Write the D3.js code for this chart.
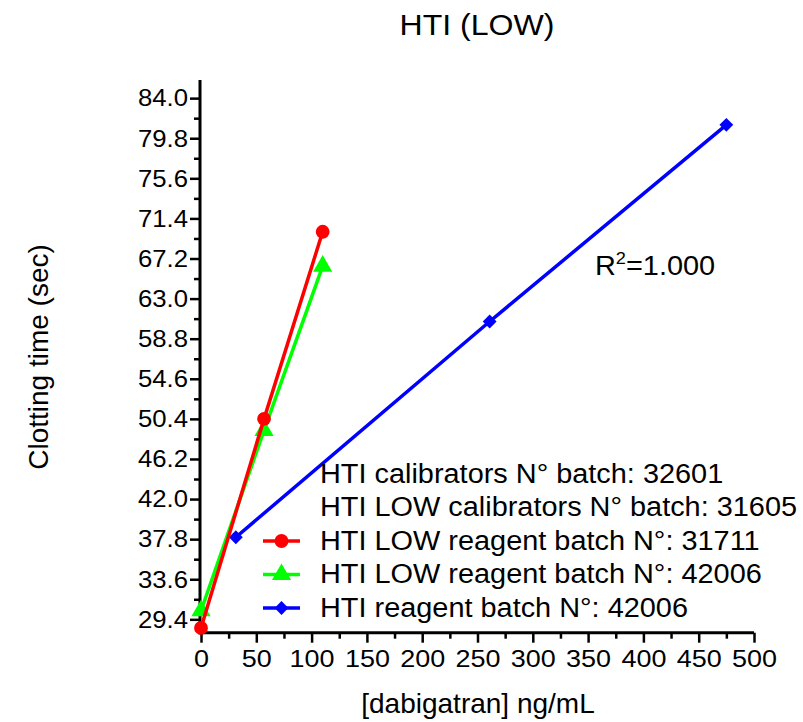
<!DOCTYPE html>
<html>
<head>
<meta charset="utf-8">
<script src="https://cdn.jsdelivr.net/npm/d3@7"></script>
<style>
  body { margin: 0; background: #fff; }
  text { font-family: "Liberation Sans", Arial, sans-serif; fill: #000; }
</style>
</head>
<body>
<div id="chart"></div>
<script>
// data
var redX = [0, 57, 110];
var redY = [28.5, 50.4, 70.0];
var greenX = [0, 57, 110];
var greenY = [30.3, 49.2, 66.4];
var blueX = [31.5, 261, 475];
var blueY = [38.0, 60.6, 81.2];

var seriesNames = [
    "HTI LOW reagent batch N°: 31711",
    "HTI LOW reagent batch N°: 42006",
    "HTI reagent batch N°: 42006"
];
var extraLegend = [
    "HTI calibrators N° batch: 32601",
    "HTI LOW calibrators N° batch: 31605"
];

var yMajor = [29.4, 33.6, 37.8, 42.0, 46.2, 50.4, 54.6, 58.8, 63.0, 67.2, 71.4, 75.6, 79.8, 84.0];
var yMinor = [31.5, 35.7, 39.9, 44.1, 48.3, 52.5, 56.7, 60.9, 65.1, 69.3, 73.5, 77.7, 81.9];
var xMajor = [0, 50, 100, 150, 200, 250, 300, 350, 400, 450, 500];
var xMinor = [25, 75, 125, 175, 225, 275, 325, 375, 425, 475];

var width = 803, height = 722;

var svg = d3.select("#chart")
    .append("svg")
    .attr("width", width)
    .attr("height", height);

// scales
var x = d3.scaleLinear().domain([0, 500]).range([201, 754]);
var y = d3.scaleLinear().domain([28, 85.9]).range([632.7, 80]);

// the original text is a bit wider than Liberation Sans, so stretch it sideways
function wide(sel, cx, cy) {
    sel.attr("transform", "translate(" + cx + "," + cy + ") scale(1.07,1) translate(" + (-cx) + "," + (-cy) + ")");
}

// title
svg.append("text")
    .attr("x", 477)
    .attr("y", 35)
    .attr("text-anchor", "middle")
    .style("font-size", "30px")
    .call(wide, 477, 35)
    .text("HTI (LOW)");

// axis titles
svg.append("text")
    .attr("transform", "translate(48,357) rotate(-90)")
    .attr("text-anchor", "middle")
    .style("font-size", "28px")
    .text("Clotting time (sec)");

svg.append("text")
    .attr("x", 478)
    .attr("y", 713)
    .attr("text-anchor", "middle")
    .style("font-size", "28px")
    .text("[dabigatran] ng/mL");

// y axis
var yAxis = svg.append("g")
    .attr("transform", "translate(200,0)")
    .call(d3.axisLeft(y).tickValues(yMajor).tickSize(10).tickSizeOuter(0)
        .tickPadding(2).tickFormat(d3.format(".1f")));
svg.append("g")
    .attr("transform", "translate(200,0)")
    .call(d3.axisLeft(y).tickValues(yMinor).tickSize(6).tickSizeOuter(0).tickFormat(""))
    .select(".domain").remove();

// x axis
var xAxis = svg.append("g")
    .attr("transform", "translate(0,632.7)")
    .call(d3.axisBottom(x).tickValues(xMajor).tickSize(10).tickSizeOuter(0)
        .tickPadding(7).tickFormat(d3.format("d")));
svg.append("g")
    .attr("transform", "translate(0,632.7)")
    .call(d3.axisBottom(x).tickValues(xMinor).tickSize(6).tickSizeOuter(0).tickFormat(""))
    .select(".domain").remove();

// extend axis lines so they meet at the corner
yAxis.select(".domain").attr("d", "M0," + y.range()[1] + "V" + (y.range()[0] + 1.5));
xAxis.select(".domain").attr("d", "M" + (x.range()[0] - 2.5) + ",0H" + x.range()[1]);

svg.selectAll(".domain").attr("stroke", "#000").attr("stroke-width", 3);
svg.selectAll(".tick line").attr("stroke", "#000").attr("stroke-width", 2.5);
svg.selectAll(".tick text")
    .style("font-size", "24.5px")
    .style("font-family", "'Liberation Sans', Arial, sans-serif")
    .attr("fill", "#000");
// stretch tick labels around their anchor
yAxis.selectAll(".tick text").attr("transform", "translate(-12,0) scale(1.05,1) translate(12,0)");
xAxis.selectAll(".tick text").attr("transform", "scale(1.1,1)");

// series
var series = [
    { xs: redX, ys: redY, color: "#ff0000", shape: d3.symbolCircle, size: 150, rot: 0 },
    { xs: greenX, ys: greenY, color: "#00ff00", shape: d3.symbolTriangle, size: 160, rot: 0 },
    { xs: blueX, ys: blueY, color: "#0000ff", shape: d3.symbolSquare, size: 95, rot: 45 }
];

var line = d3.line()
    .x(function(d) { return x(d[0]); })
    .y(function(d) { return y(d[1]); });

// draw blue first so red/green sit on top like the original
[2, 1, 0].forEach(function(i) {
    var s = series[i];
    var pts = s.xs.map(function(v, j) { return [v, s.ys[j]]; });
    svg.append("path")
        .datum(pts)
        .attr("d", line)
        .attr("fill", "none")
        .attr("stroke", s.color)
        .attr("stroke-width", 3.5);
    svg.append("g")
        .selectAll("path")
        .data(pts)
        .enter()
        .append("path")
        .attr("transform", function(d) {
            return "translate(" + x(d[0]) + "," + y(d[1]) + ") rotate(" + s.rot + ")";
        })
        .attr("d", d3.symbol().type(s.shape).size(s.size))
        .attr("fill", s.color);
});

// R squared label
var r2 = svg.append("text")
    .attr("x", 595)
    .attr("y", 275)
    .style("font-size", "27px")
    .call(wide, 595, 275);
r2.append("tspan").text("R");
r2.append("tspan").attr("dy", -11).style("font-size", "17px").text("2");
r2.append("tspan").attr("dy", 11).text("=1.000");

// legend
var legend = svg.append("g");
var legendRows = extraLegend.map(function(t) { return { text: t, s: null }; })
    .concat(seriesNames.map(function(t, i) { return { text: t, s: series[i] }; }));

legendRows.forEach(function(row, i) {
    var base = 483 + i * 33.5;
    if (row.s) {
        legend.append("line")
            .attr("x1", 263).attr("x2", 300)
            .attr("y1", base - 9).attr("y2", base - 9)
            .attr("stroke", row.s.color)
            .attr("stroke-width", 3.5);
        legend.append("path")
            .attr("transform", "translate(281.5," + (base - 9) + ") rotate(" + row.s.rot + ")")
            .attr("d", d3.symbol().type(row.s.shape).size(row.s.size))
            .attr("fill", row.s.color);
    }
    legend.append("text")
        .attr("x", 320)
        .attr("y", base)
        .style("font-size", "27px")
        .call(wide, 320, base)
        .text(row.text);
});
</script>
</body>
</html>
